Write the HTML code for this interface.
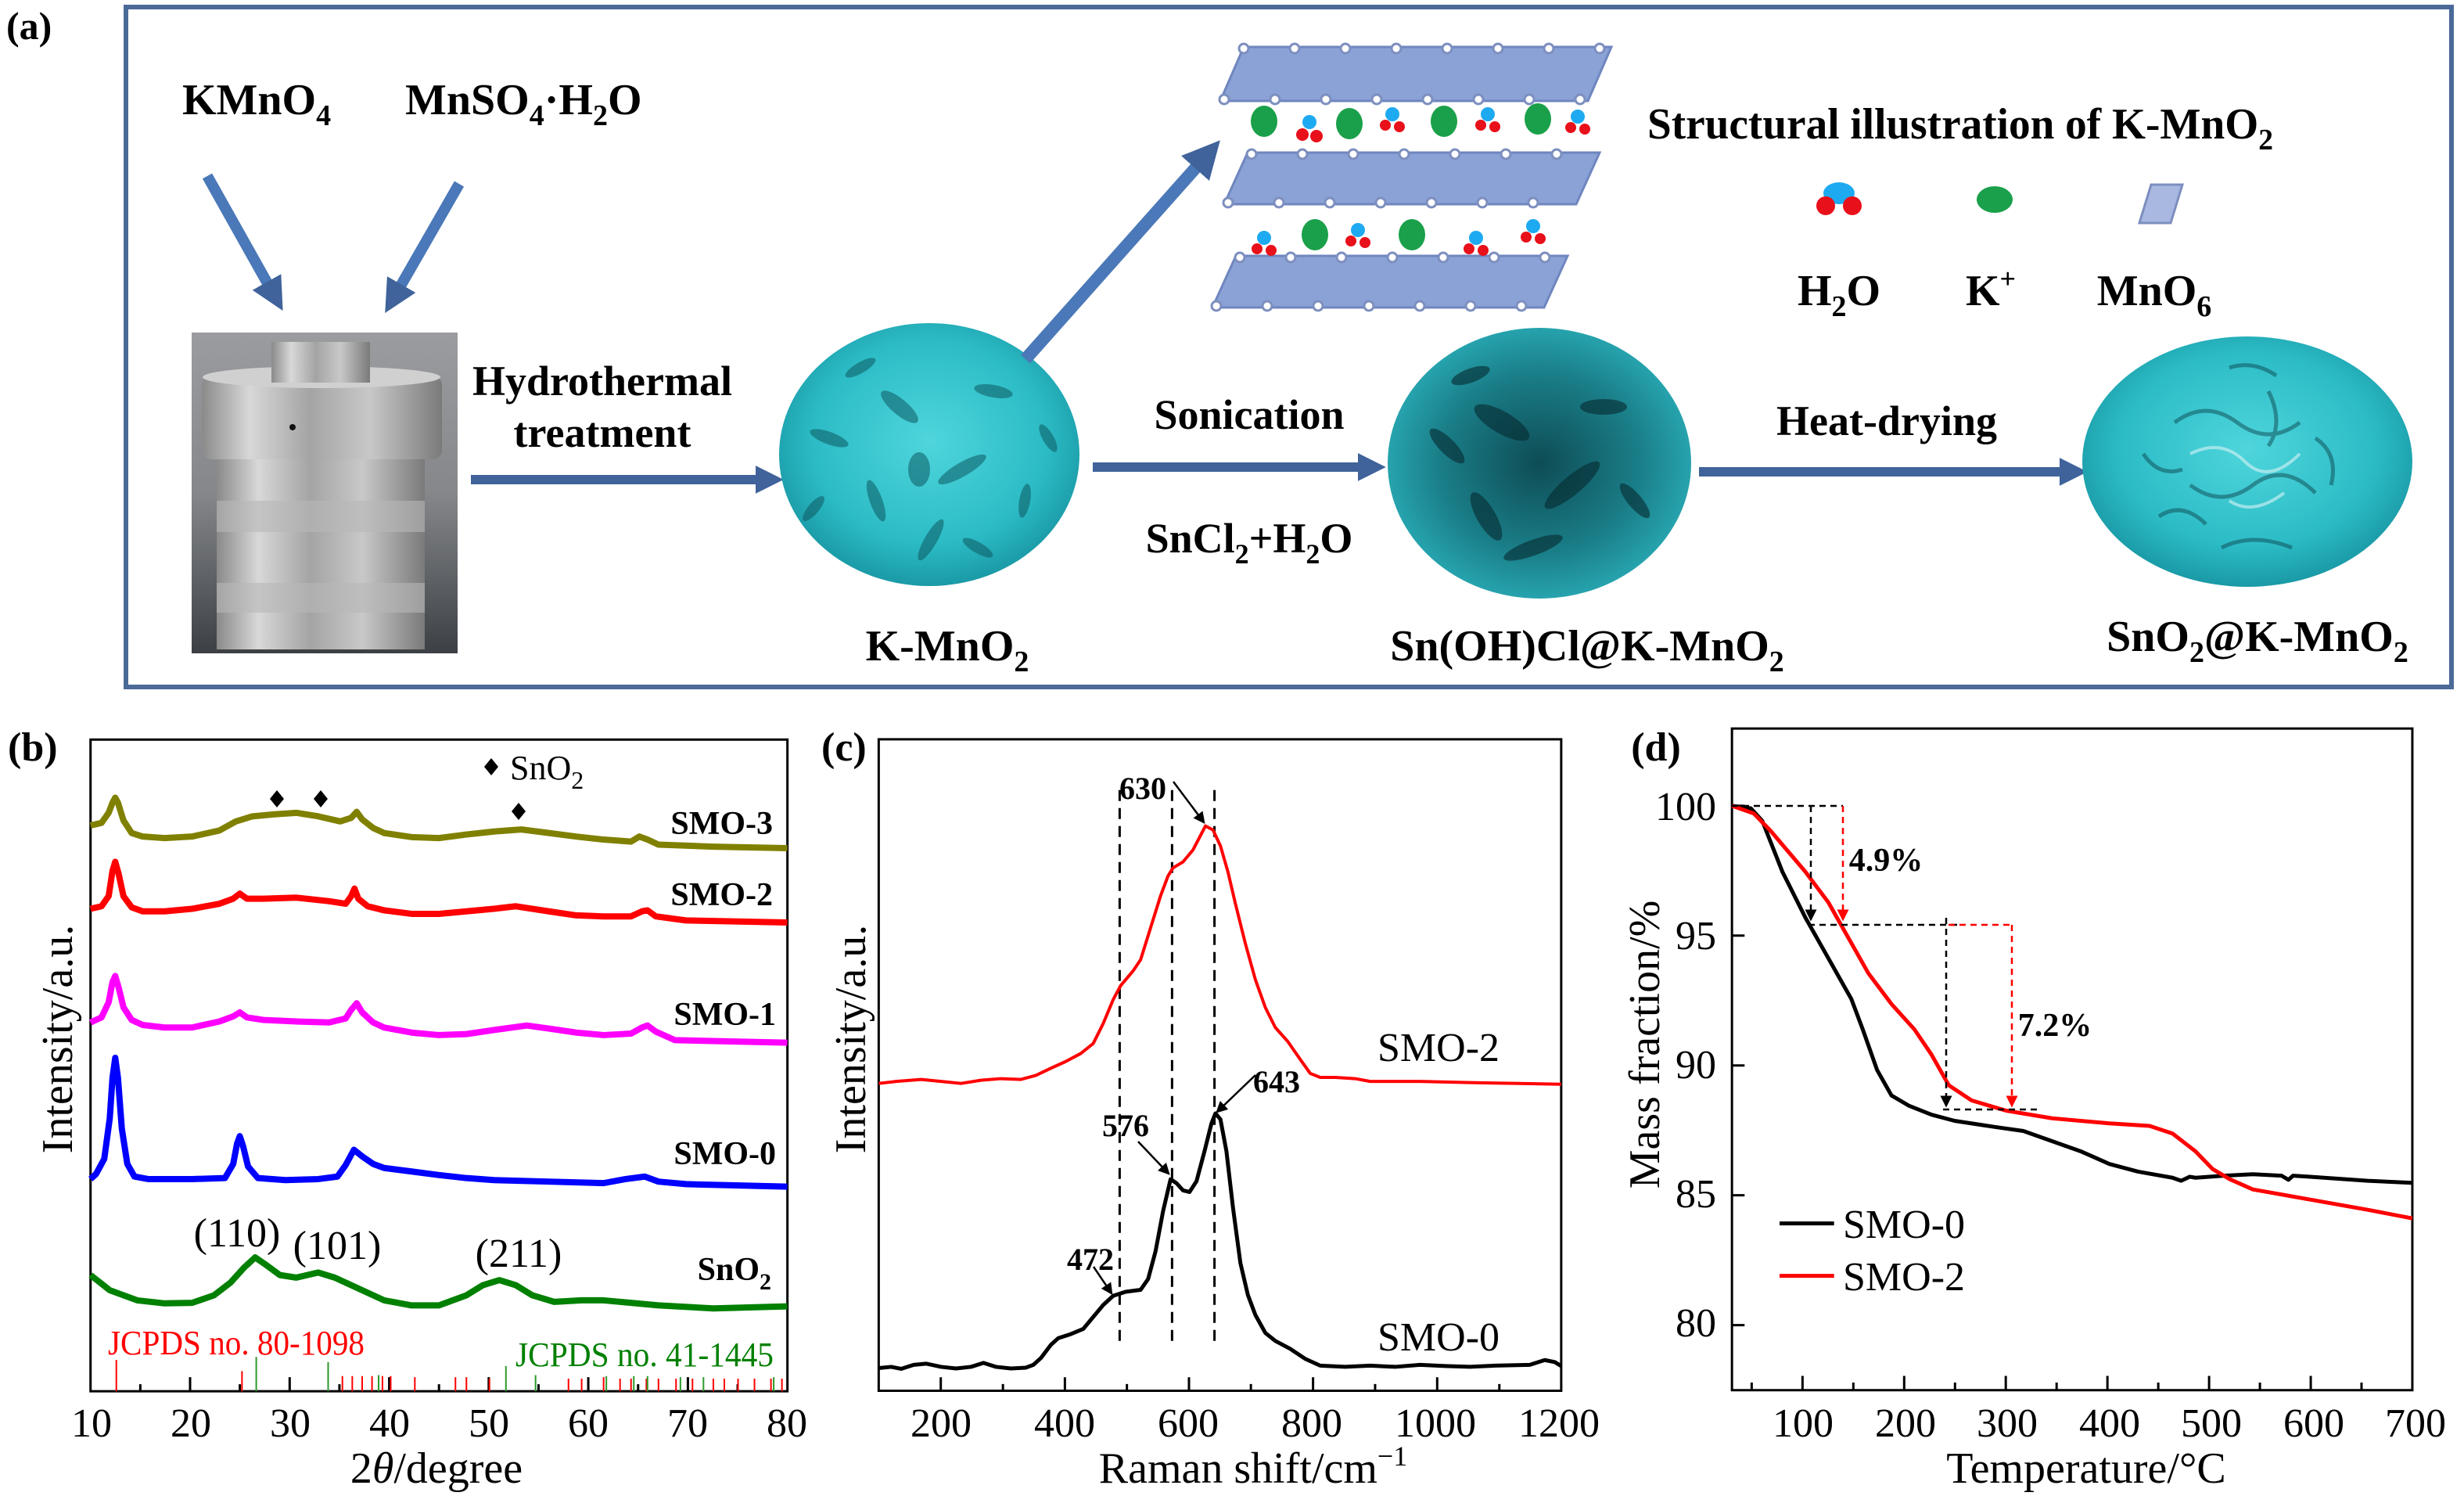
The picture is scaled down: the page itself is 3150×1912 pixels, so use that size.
<!DOCTYPE html>
<html><head><meta charset="utf-8"><style>
html,body{margin:0;padding:0;background:#fff;}
svg{display:block;}
text{font-family:"Liberation Serif",serif;}
.b{font-weight:bold;}
</style></head><body>
<svg width="3150" height="1912" viewBox="0 0 3150 1912" xmlns="http://www.w3.org/2000/svg">
<defs>
<marker id="ah" markerWidth="6" markerHeight="6" refX="5" refY="3" orient="auto" markerUnits="strokeWidth"><path d="M0,0 L6,3 L0,6 z" fill="#000"/></marker>
<marker id="ahr" markerWidth="6" markerHeight="6" refX="5" refY="3" orient="auto" markerUnits="strokeWidth"><path d="M0,0 L6,3 L0,6 z" fill="#f00"/></marker>
<marker id="bh" markerWidth="3" markerHeight="3" refX="1.6" refY="1.5" orient="auto" markerUnits="strokeWidth"><path d="M0,0 L3,1.5 L0,3 z" fill="#3f639a"/></marker>
<radialGradient id="teal" cx="50%" cy="45%" r="55%"><stop offset="0" stop-color="#4fd5dc"/><stop offset="0.7" stop-color="#2cbcc6"/><stop offset="1" stop-color="#1a9aa6"/></radialGradient>
<radialGradient id="tealdark" cx="50%" cy="50%" r="55%"><stop offset="0" stop-color="#0e4c55"/><stop offset="0.6" stop-color="#1a7e88"/><stop offset="1" stop-color="#2aaeb8"/></radialGradient>
<linearGradient id="metal" x1="0" x2="1" y1="0" y2="0"><stop offset="0" stop-color="#8a8a8a"/><stop offset="0.2" stop-color="#d8d8d8"/><stop offset="0.45" stop-color="#a4a4a4"/><stop offset="0.7" stop-color="#c8c8c8"/><stop offset="1" stop-color="#7a7a7a"/></linearGradient>
<linearGradient id="photobg" x1="0" x2="0" y1="0" y2="1"><stop offset="0" stop-color="#9a9ca0"/><stop offset="0.5" stop-color="#85878a"/><stop offset="1" stop-color="#3c4045"/></linearGradient>
</defs>

<!-- ===== Panel (a) ===== -->
<text x="8" y="50" class="b" font-size="50">(a)</text>
<rect x="161" y="9" width="2973" height="869" fill="none" stroke="#4b6a98" stroke-width="6"/>
<text x="233" y="146" class="b" font-size="56">KMnO<tspan font-size="38" dy="14">4</tspan></text>
<text x="518" y="146" class="b" font-size="56">MnSO<tspan font-size="38" dy="14">4</tspan><tspan dy="-14">·H</tspan><tspan font-size="38" dy="14">2</tspan><tspan dy="-14">O</tspan></text>
<line x1="265" y1="225" x2="352" y2="380" stroke="#4a78b8" stroke-width="14" marker-end="url(#bh)"/>
<line x1="587" y1="235" x2="502" y2="383" stroke="#4a78b8" stroke-width="14" marker-end="url(#bh)"/>
<rect x="245" y="425" width="340" height="410" fill="url(#photobg)"/>
<rect x="277" y="587" width="266" height="243" fill="url(#metal)"/>
<rect x="277" y="640" width="266" height="40" fill="#b8b8b8" opacity="0.6"/>
<rect x="277" y="745" width="266" height="38" fill="#b8b8b8" opacity="0.6"/>
<rect x="258" y="480" width="307" height="107" rx="12" fill="url(#metal)"/>
<ellipse cx="411" cy="482" rx="152" ry="14" fill="#d0d0d0"/>
<rect x="347" y="437" width="126" height="52" fill="url(#metal)"/>
<circle cx="374" cy="546" r="4" fill="#111"/>
<text x="770" y="505" class="b" font-size="54" text-anchor="middle">Hydrothermal</text>
<text x="770" y="571" class="b" font-size="54" text-anchor="middle">treatment</text>
<line x1="602" y1="613" x2="985" y2="613" stroke="#3f639a" stroke-width="12" marker-end="url(#bh)"/>
<g>
<ellipse cx="1188" cy="581" rx="192" ry="168" fill="url(#teal)"/>
<g fill="#0d5a62" opacity="0.55">
<ellipse cx="1150" cy="520" rx="30" ry="10" transform="rotate(40 1150 520)"/>
<ellipse cx="1230" cy="600" rx="35" ry="9" transform="rotate(-30 1230 600)"/>
<ellipse cx="1120" cy="640" rx="28" ry="8" transform="rotate(70 1120 640)"/>
<ellipse cx="1270" cy="500" rx="25" ry="8" transform="rotate(10 1270 500)"/>
<ellipse cx="1190" cy="690" rx="30" ry="8" transform="rotate(-60 1190 690)"/>
<ellipse cx="1060" cy="560" rx="26" ry="8" transform="rotate(20 1060 560)"/>
<ellipse cx="1310" cy="640" rx="22" ry="7" transform="rotate(-80 1310 640)"/>
<ellipse cx="1175" cy="600" rx="14" ry="22"/>
<ellipse cx="1100" cy="470" rx="22" ry="7" transform="rotate(-30 1100 470)"/>
<ellipse cx="1250" cy="700" rx="22" ry="7" transform="rotate(30 1250 700)"/>
<ellipse cx="1340" cy="560" rx="20" ry="7" transform="rotate(60 1340 560)"/>
<ellipse cx="1040" cy="650" rx="20" ry="7" transform="rotate(-50 1040 650)"/>
</g></g>
<text x="1211" y="844" class="b" font-size="56" text-anchor="middle">K-MnO<tspan font-size="38" dy="14">2</tspan></text>
<line x1="1311" y1="459" x2="1545" y2="196" stroke="#4a78b8" stroke-width="16" marker-end="url(#bh)"/>
<g fill="#8aa2d6" stroke="#6f86bf" stroke-width="3">
<polygon points="1560,129 1590,60 2060,60 2030,129"/>
<polygon points="1565,261 1595,195 2045,195 2015,261"/>
<polygon points="1550,393 1580,327 2004,327 1974,393"/>
</g>
<g fill="#fff" stroke="#7d8fbf" stroke-width="3">
<circle cx="1590" cy="62" r="6"/><circle cx="1655" cy="62" r="6"/><circle cx="1720" cy="62" r="6"/><circle cx="1785" cy="62" r="6"/><circle cx="1850" cy="62" r="6"/><circle cx="1915" cy="62" r="6"/><circle cx="1980" cy="62" r="6"/><circle cx="2045" cy="62" r="6"/>
<circle cx="1565" cy="127" r="6"/><circle cx="1630" cy="127" r="6"/><circle cx="1695" cy="127" r="6"/><circle cx="1760" cy="127" r="6"/><circle cx="1825" cy="127" r="6"/><circle cx="1890" cy="127" r="6"/><circle cx="1955" cy="127" r="6"/><circle cx="2020" cy="127" r="6"/>
<circle cx="1600" cy="197" r="6"/><circle cx="1665" cy="197" r="6"/><circle cx="1730" cy="197" r="6"/><circle cx="1795" cy="197" r="6"/><circle cx="1860" cy="197" r="6"/><circle cx="1925" cy="197" r="6"/><circle cx="1990" cy="197" r="6"/>
<circle cx="1570" cy="259" r="6"/><circle cx="1635" cy="259" r="6"/><circle cx="1700" cy="259" r="6"/><circle cx="1765" cy="259" r="6"/><circle cx="1830" cy="259" r="6"/><circle cx="1895" cy="259" r="6"/><circle cx="1960" cy="259" r="6"/>
<circle cx="1585" cy="329" r="6"/><circle cx="1650" cy="329" r="6"/><circle cx="1715" cy="329" r="6"/><circle cx="1780" cy="329" r="6"/><circle cx="1845" cy="329" r="6"/><circle cx="1910" cy="329" r="6"/><circle cx="1975" cy="329" r="6"/>
<circle cx="1555" cy="391" r="6"/><circle cx="1620" cy="391" r="6"/><circle cx="1685" cy="391" r="6"/><circle cx="1750" cy="391" r="6"/><circle cx="1815" cy="391" r="6"/><circle cx="1880" cy="391" r="6"/><circle cx="1945" cy="391" r="6"/>
</g>
<g fill="#1aa04a">
<ellipse cx="1616" cy="155" rx="17" ry="20"/><ellipse cx="1725" cy="158" rx="17" ry="20"/><ellipse cx="1846" cy="155" rx="17" ry="20"/><ellipse cx="1966" cy="152" rx="17" ry="20"/>
<ellipse cx="1681" cy="300" rx="17" ry="20"/><ellipse cx="1805" cy="300" rx="17" ry="20"/>
</g>
<g>
<g transform="translate(1674,162)"><circle cx="0" cy="-6" r="9" fill="#1eaaf0"/><circle cx="-9" cy="10" r="8" fill="#e8101a"/><circle cx="9" cy="12" r="8" fill="#e8101a"/></g>
<g transform="translate(1780,152)"><circle cx="0" cy="-6" r="9" fill="#1eaaf0"/><circle cx="-9" cy="8" r="7" fill="#e8101a"/><circle cx="9" cy="10" r="7" fill="#e8101a"/></g>
<g transform="translate(1902,152)"><circle cx="0" cy="-6" r="9" fill="#1eaaf0"/><circle cx="-9" cy="8" r="7" fill="#e8101a"/><circle cx="9" cy="10" r="7" fill="#e8101a"/></g>
<g transform="translate(2017,155)"><circle cx="0" cy="-6" r="9" fill="#1eaaf0"/><circle cx="-9" cy="8" r="7" fill="#e8101a"/><circle cx="9" cy="10" r="7" fill="#e8101a"/></g>
<g transform="translate(1616,310)"><circle cx="0" cy="-6" r="9" fill="#1eaaf0"/><circle cx="-9" cy="8" r="7" fill="#e8101a"/><circle cx="9" cy="10" r="7" fill="#e8101a"/></g>
<g transform="translate(1736,300)"><circle cx="0" cy="-6" r="9" fill="#1eaaf0"/><circle cx="-9" cy="8" r="7" fill="#e8101a"/><circle cx="9" cy="10" r="7" fill="#e8101a"/></g>
<g transform="translate(1887,310)"><circle cx="0" cy="-6" r="9" fill="#1eaaf0"/><circle cx="-9" cy="8" r="7" fill="#e8101a"/><circle cx="9" cy="10" r="7" fill="#e8101a"/></g>
<g transform="translate(1960,295)"><circle cx="0" cy="-6" r="9" fill="#1eaaf0"/><circle cx="-9" cy="8" r="7" fill="#e8101a"/><circle cx="9" cy="10" r="7" fill="#e8101a"/></g>
</g>
<text x="2106" y="177" class="b" font-size="56" textLength="800" lengthAdjust="spacingAndGlyphs">Structural illustration of K-MnO<tspan font-size="38" dy="14">2</tspan></text>
<g transform="translate(2351,253)"><ellipse cx="0" cy="-6" rx="20" ry="14" fill="#1eaaf0"/><circle cx="-17" cy="10" r="12" fill="#e8101a"/><circle cx="17" cy="10" r="12" fill="#e8101a"/></g>
<ellipse cx="2550" cy="255" rx="23" ry="17" fill="#1aa04a"/>
<polygon points="2735,285 2750,236 2790,236 2775,285" fill="#a8b8e0" stroke="#7d8fbf" stroke-width="3"/>
<text x="2351" y="390" class="b" font-size="56" text-anchor="middle">H<tspan font-size="38" dy="14">2</tspan><tspan dy="-14">O</tspan></text>
<text x="2545" y="390" class="b" font-size="56" text-anchor="middle">K<tspan font-size="36" dy="-22">+</tspan></text>
<text x="2754" y="390" class="b" font-size="56" text-anchor="middle">MnO<tspan font-size="38" dy="14">6</tspan></text>
<text x="1597" y="548" class="b" font-size="54" text-anchor="middle">Sonication</text>
<line x1="1397" y1="597" x2="1755" y2="597" stroke="#3f639a" stroke-width="12" marker-end="url(#bh)"/>
<text x="1597" y="706" class="b" font-size="54" text-anchor="middle">SnCl<tspan font-size="36" dy="14">2</tspan><tspan dy="-14">+H</tspan><tspan font-size="36" dy="14">2</tspan><tspan dy="-14">O</tspan></text>
<ellipse cx="1968" cy="592" rx="194" ry="173" fill="url(#tealdark)"/>
<g fill="#062a30" opacity="0.6">
<ellipse cx="1920" cy="540" rx="40" ry="14" transform="rotate(30 1920 540)"/>
<ellipse cx="2010" cy="620" rx="45" ry="12" transform="rotate(-40 2010 620)"/>
<ellipse cx="1900" cy="660" rx="35" ry="12" transform="rotate(60 1900 660)"/>
<ellipse cx="2050" cy="520" rx="30" ry="10"/>
<ellipse cx="1960" cy="700" rx="40" ry="10" transform="rotate(-20 1960 700)"/>
<ellipse cx="1850" cy="570" rx="30" ry="10" transform="rotate(45 1850 570)"/>
<ellipse cx="2090" cy="640" rx="28" ry="9" transform="rotate(50 2090 640)"/>
<ellipse cx="1880" cy="480" rx="26" ry="9" transform="rotate(-20 1880 480)"/>
</g>
<text x="2029" y="844" class="b" font-size="56" text-anchor="middle">Sn(OH)Cl@K-MnO<tspan font-size="38" dy="14">2</tspan></text>
<text x="2412" y="556" class="b" font-size="54" text-anchor="middle">Heat-drying</text>
<line x1="2172" y1="603" x2="2652" y2="603" stroke="#3f639a" stroke-width="12" marker-end="url(#bh)"/>
<ellipse cx="2873" cy="590" rx="211" ry="160" fill="url(#teal)"/>
<g fill="none" stroke="#0d4a52" stroke-width="5" opacity="0.5">
<path d="M2780,540 q40,-30 80,0 t80,0"/><path d="M2800,620 q40,30 80,0 t80,10"/><path d="M2760,660 q30,-20 60,10"/><path d="M2900,500 q20,40 0,70"/><path d="M2840,700 q40,-20 90,0"/>
<path d="M2740,580 q20,30 50,20"/><path d="M2960,560 q30,20 20,60"/><path d="M2850,470 q30,-10 60,10"/>
</g>
<g fill="none" stroke="#d8f4f6" stroke-width="4" opacity="0.6">
<path d="M2800,580 q40,-20 70,10 t70,-10"/><path d="M2850,640 q30,20 70,-10"/>
</g>
<text x="2886" y="832" class="b" font-size="56" text-anchor="middle">SnO<tspan font-size="38" dy="14">2</tspan><tspan dy="-14">@K-MnO</tspan><tspan font-size="38" dy="14">2</tspan></text>

<!-- ===== Panel (b) ===== -->
<text x="10" y="972" class="b" font-size="52">(b)</text>
<g transform="translate(0,900) scale(0.7015,0.6457)" fill="none">
<rect x="165" y="70" width="1270" height="1290" stroke="#000" stroke-width="3" vector-effect="non-scaling-stroke"/>
<g stroke="#000" stroke-width="3">
<path vector-effect="non-scaling-stroke" d="M346.4,1360v-28M527.9,1360v-28M709.3,1360v-28M890.7,1360v-28M1072.1,1360v-28M1253.6,1360v-28M255.7,1360v-14M437.1,1360v-14M618.6,1360v-14M800,1360v-14M981.4,1360v-14M1162.9,1360v-14M1344.3,1360v-14"/>
</g>
<g stroke="#f00" stroke-width="2">
<path vector-effect="non-scaling-stroke" d="M212,1360V1298M441,1360V1320M624,1360V1330M642,1360V1330M660,1360V1330M678,1360V1330M697,1360V1330M712,1360V1330M756,1360V1332M830,1360V1332M850,1360V1332M892,1360V1335M1036,1360V1335M1060,1360V1335M1100,1360V1332M1130,1360V1335M1150,1360V1335M1178,1360V1335M1200,1360V1335M1232,1360V1335M1262,1360V1335M1300,1360V1335M1320,1360V1335M1345,1360V1335M1375,1360V1335M1405,1360V1335M1425,1360V1335"/>
</g>
<g stroke="#2a9a2a" stroke-width="2">
<path vector-effect="non-scaling-stroke" d="M467,1360V1292M598,1360V1302M690,1360V1328M922,1360V1310M976,1360V1328M1105,1360V1330M1155,1360V1330M1180,1360V1330M1240,1360V1332M1282,1360V1332M1410,1360V1332"/>
</g>
<g stroke-width="8" stroke-linejoin="round">
<polyline vector-effect="non-scaling-stroke" stroke="#808000" points="165,240 185,235 198,215 205,195 210,185 215,195 225,230 240,255 260,262 300,265 350,262 400,250 430,232 460,222 500,218 540,215 580,222 620,232 640,225 650,213 660,228 680,245 700,255 750,263 800,265 850,258 900,252 950,248 1000,255 1050,262 1100,268 1150,272 1165,262 1180,268 1200,278 1300,282 1435,285"/>
<polyline vector-effect="non-scaling-stroke" stroke="#ff0000" points="165,405 185,400 198,380 205,330 210,312 216,335 225,380 240,402 260,410 300,410 350,405 400,395 425,385 437,375 450,385 480,385 540,383 600,390 630,395 640,380 646,365 653,385 670,400 700,408 750,415 800,415 850,410 900,405 940,400 1000,410 1050,418 1100,420 1150,420 1170,410 1180,408 1195,420 1250,428 1435,432"/>
<polyline vector-effect="non-scaling-stroke" stroke="#ff00ff" points="165,630 185,620 198,590 205,550 210,538 216,560 225,600 240,625 260,635 300,640 350,640 400,628 425,618 437,610 450,620 480,625 540,628 600,630 630,622 640,605 650,592 660,610 680,630 700,640 750,650 800,655 850,653 900,645 960,636 1000,642 1050,650 1100,655 1150,652 1170,640 1180,636 1195,648 1230,665 1435,670"/>
<polyline vector-effect="non-scaling-stroke" stroke="#0000ff" points="165,940 175,930 190,900 200,820 205,740 210,700 215,740 222,840 232,910 245,935 270,940 350,940 410,938 425,910 432,870 437,855 443,875 452,915 470,938 520,942 580,940 615,935 630,912 645,882 660,895 680,910 700,918 750,925 800,932 850,938 900,942 1000,945 1100,948 1140,940 1175,935 1200,945 1250,950 1435,955"/>
<polyline vector-effect="non-scaling-stroke" stroke="#008000" points="165,1130 200,1160 250,1180 300,1186 350,1185 390,1170 420,1145 445,1115 465,1095 485,1110 510,1130 540,1135 580,1125 610,1135 650,1155 700,1180 750,1190 800,1190 850,1170 880,1150 910,1140 940,1150 970,1170 1010,1183 1060,1180 1100,1180 1150,1185 1200,1190 1300,1196 1435,1192"/>
</g>
</g>
<g fill="#000">
<path d="M354,1010 l9,11 l-9,11 l-9,-11z"/><path d="M410,1010 l9,11 l-9,11 l-9,-11z"/><path d="M663,1026 l9,11 l-9,11 l-9,-11z"/><path d="M628,969 l9,11 l-9,11 l-9,-11z"/>
</g>
<text x="652" y="996" font-size="44">SnO<tspan font-size="32" dy="12">2</tspan></text>
<g class="b" font-size="42" text-anchor="end">
<text x="988" y="1066" class="b">SMO-3</text>
<text x="988" y="1157" class="b">SMO-2</text>
<text x="992" y="1310" class="b">SMO-1</text>
<text x="992" y="1488" class="b">SMO-0</text>
<text x="986" y="1636" class="b">SnO<tspan font-size="30" dy="12">2</tspan></text>
</g>
<g font-size="52" text-anchor="middle">
<text x="303" y="1593">(110)</text><text x="431" y="1609">(101)</text><text x="663" y="1619">(211)</text>
</g>
<text x="138" y="1731" font-size="44" fill="#f00" textLength="328" lengthAdjust="spacingAndGlyphs">JCPDS no. 80-1098</text>
<text x="659" y="1746" font-size="44" fill="#008000" textLength="330" lengthAdjust="spacingAndGlyphs">JCPDS no. 41-1445</text>
<g font-size="52" text-anchor="middle">
<text x="117" y="1836">10</text><text x="244" y="1836">20</text><text x="371" y="1836">30</text><text x="498" y="1836">40</text><text x="625" y="1836">50</text><text x="752" y="1836">60</text><text x="879" y="1836">70</text><text x="1006" y="1836">80</text>
</g>
<text x="558" y="1895" font-size="56" text-anchor="middle">2<tspan font-style="italic">θ</tspan>/degree</text>
<text transform="translate(92,1328) rotate(-90)" font-size="56" text-anchor="middle">Intensity/a.u.</text>

<!-- ===== Panel (c) ===== -->
<text x="1050" y="972" class="b" font-size="52">(c)</text>
<g transform="translate(1050,900) scale(0.6378,0.5102)" fill="none">
<rect x="115" y="88" width="1368" height="1632" stroke="#000" stroke-width="3" vector-effect="non-scaling-stroke"/>
<path vector-effect="non-scaling-stroke" stroke="#000" stroke-width="3" d="M239.4,1720v-34M488.2,1720v-34M736.9,1720v-34M985.6,1720v-34M1234.4,1720v-34M364,1720v-17M612.5,1720v-17M861,1720v-17M1110,1720v-17M1359,1720v-17"/>
<path vector-effect="non-scaling-stroke" stroke="#000" stroke-width="3" stroke-dasharray="14 9" d="M598,215V1600M703,215V1600M788,215V1600"/>
<polyline vector-effect="non-scaling-stroke" stroke="#000" stroke-width="5" stroke-linejoin="round" points="115,1663 140,1660 160,1665 185,1655 210,1652 240,1660 270,1664 300,1660 325,1650 350,1660 380,1664 410,1662 425,1655 440,1638 460,1605 475,1588 500,1578 525,1565 545,1535 565,1505 585,1482 610,1472 640,1467 655,1440 670,1370 685,1270 700,1190 712,1200 725,1218 738,1222 752,1195 768,1120 782,1050 790,1025 800,1040 812,1120 825,1260 840,1400 855,1480 870,1530 890,1575 910,1595 940,1615 970,1640 1000,1657 1050,1660 1100,1657 1150,1660 1200,1655 1250,1658 1300,1660 1350,1657 1420,1655 1450,1643 1470,1648 1483,1658"/>
<polyline vector-effect="non-scaling-stroke" stroke="#f00" stroke-width="4" stroke-linejoin="round" points="115,950 150,945 200,940 240,945 280,950 320,942 360,938 400,940 430,930 460,912 490,895 520,875 545,850 565,800 585,740 600,705 625,668 640,640 660,560 680,480 695,430 705,410 725,395 745,365 770,305 785,315 800,355 815,420 830,500 850,600 870,690 890,760 910,810 935,845 960,890 980,925 1000,935 1030,935 1070,938 1100,945 1200,945 1300,948 1400,950 1483,952"/>
</g>
<g stroke="#000" stroke-width="2.5" marker-end="url(#ah)">
<line x1="1500" y1="999" x2="1539" y2="1051"/>
<line x1="1605" y1="1374" x2="1556" y2="1421"/>
<line x1="1455" y1="1459" x2="1494" y2="1500"/>
<line x1="1398" y1="1619" x2="1421" y2="1653"/>
</g>
<g class="b" font-size="40" text-anchor="middle">
<text x="1461" y="1021" class="b">630</text>
<text x="1632" y="1396" class="b">643</text>
<text x="1439" y="1452" class="b">576</text>
<text x="1394" y="1623" class="b">472</text>
</g>
<text x="1839" y="1356" font-size="52" text-anchor="middle">SMO-2</text>
<text x="1839" y="1726" font-size="52" text-anchor="middle">SMO-0</text>
<g font-size="52" text-anchor="middle">
<text x="1203" y="1836">200</text><text x="1361" y="1836">400</text><text x="1519" y="1836">600</text><text x="1677" y="1836">800</text><text x="1835" y="1836">1000</text><text x="1993" y="1836">1200</text>
</g>
<text x="1602" y="1895" font-size="56" text-anchor="middle">Raman shift/cm<tspan font-size="36" dy="-22">−1</tspan></text>
<text transform="translate(1106,1328) rotate(-90)" font-size="56" text-anchor="middle">Intensity/a.u.</text>

<!-- ===== Panel (d) ===== -->
<g transform="translate(2000,900) scale(0.7334,0.6494)" fill="none">
<rect x="292" y="48" width="1186" height="1302" stroke="#000" stroke-width="3" vector-effect="non-scaling-stroke"/>
<path vector-effect="non-scaling-stroke" stroke="#000" stroke-width="3" d="M415,1350v-28M592.2,1350v-28M769.3,1350v-28M946.5,1350v-28M1123.7,1350v-28M1300.9,1350v-28M326.4,1350v-15M503.6,1350v-15M680.8,1350v-15M857.9,1350v-15M1035.1,1350v-15M1212.3,1350v-15M1389.4,1350v-15M292,200h22M292,455.5h22M292,711h22M292,966.5h22M292,1222h22"/>
<polyline vector-effect="non-scaling-stroke" stroke="#000" stroke-width="5" stroke-linejoin="round" points="292,200 325,205 345,230 380,330 420,420 460,500 500,580 520,640 545,720 570,770 600,790 640,808 680,820 750,832 800,840 850,860 900,880 950,905 1000,920 1060,932 1075,938 1090,930 1100,932 1150,928 1200,925 1250,928 1262,936 1270,928 1300,930 1400,938 1478,942"/>
<polyline vector-effect="non-scaling-stroke" stroke="#f00" stroke-width="5" stroke-linejoin="round" points="292,200 330,215 360,250 420,330 460,390 490,450 530,530 570,590 610,640 640,690 670,750 710,780 770,800 850,815 950,825 1020,830 1060,845 1100,880 1130,915 1160,935 1200,955 1300,975 1400,995 1478,1012"/>
<line vector-effect="non-scaling-stroke" x1="375" y1="1022" x2="470" y2="1022" stroke="#000" stroke-width="5"/>
<line vector-effect="non-scaling-stroke" x1="375" y1="1125" x2="470" y2="1125" stroke="#f00" stroke-width="5"/>
</g>
<g fill="none" stroke-width="2.5" stroke-dasharray="8 6">
<path stroke="#000" d="M2214,1030H2356M2312,1182H2506M2484,1418H2609"/>
<path stroke="#f00" d="M2491,1182H2572"/>
<line stroke="#000" x1="2315" y1="1030" x2="2315" y2="1175" marker-end="url(#ah)"/>
<line stroke="#f00" x1="2356" y1="1030" x2="2356" y2="1175" marker-end="url(#ahr)"/>
<line stroke="#000" x1="2488" y1="1173" x2="2488" y2="1413" marker-end="url(#ah)"/>
<line stroke="#f00" x1="2572" y1="1182" x2="2572" y2="1413" marker-end="url(#ahr)"/>
</g>
<text x="2117" y="972" class="b" font-size="52" text-anchor="middle">(d)</text>
<text x="2411" y="1113" class="b" font-size="42" text-anchor="middle">4.9%</text>
<text x="2627" y="1324" class="b" font-size="42" text-anchor="middle">7.2%</text>
<text x="2356" y="1582" font-size="52">SMO-0</text>
<text x="2356" y="1649" font-size="52">SMO-2</text>
<g font-size="52" text-anchor="end">
<text x="2194" y="1048">100</text><text x="2194" y="1213">95</text><text x="2194" y="1378">90</text><text x="2194" y="1543">85</text><text x="2194" y="1708">80</text>
</g>
<g font-size="52" text-anchor="middle">
<text x="2305" y="1836">100</text><text x="2436" y="1836">200</text><text x="2566" y="1836">300</text><text x="2697" y="1836">400</text><text x="2827" y="1836">500</text><text x="2958" y="1836">600</text><text x="3088" y="1836">700</text>
</g>
<text x="2667" y="1895" font-size="56" text-anchor="middle">Temperature/°C</text>
<text transform="translate(2121,1335) rotate(-90)" font-size="56" text-anchor="middle">Mass fraction/%</text>
</svg>
</body></html>
